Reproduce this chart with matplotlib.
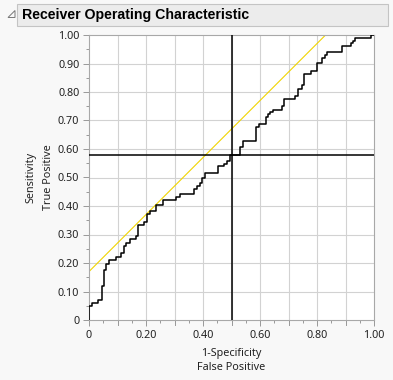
import numpy as np
import matplotlib.pyplot as plt
from matplotlib.patches import Rectangle, Polygon
from matplotlib.ticker import MultipleLocator, FuncFormatter

# ROC curve points (1-specificity, sensitivity)
fpr = [0.0, 0.0, 0.011, 0.033, 0.044, 0.054, 0.061, 0.070, 0.093, 0.113,
       0.122, 0.129, 0.145, 0.165, 0.173, 0.194, 0.202, 0.215, 0.235, 0.259,
       0.305, 0.319, 0.369, 0.379, 0.389, 0.398, 0.407, 0.453, 0.474, 0.484,
       0.495, 0.530, 0.541, 0.585, 0.596, 0.622, 0.629, 0.636, 0.645, 0.676,
       0.684, 0.724, 0.733, 0.747, 0.754, 0.778, 0.799, 0.819, 0.828, 0.836,
       0.889, 0.919, 0.925, 0.933, 0.991, 1.0]
tpr = [0.0, 0.049, 0.060, 0.070, 0.118, 0.174, 0.195, 0.211, 0.221, 0.234,
       0.261, 0.269, 0.283, 0.294, 0.333, 0.343, 0.372, 0.381, 0.402, 0.420,
       0.432, 0.443, 0.461, 0.469, 0.482, 0.497, 0.517, 0.540, 0.548, 0.559,
       0.578, 0.606, 0.628, 0.676, 0.687, 0.711, 0.722, 0.729, 0.736, 0.752,
       0.774, 0.786, 0.812, 0.825, 0.862, 0.873, 0.901, 0.920, 0.929, 0.939,
       0.961, 0.971, 0.979, 0.989, 1.0, 1.0]

tangent_intercept = 0.17   # slope-1 line touching the curve
cross_x = 0.50
cross_y = 0.578

title = "Receiver Operating Characteristic"
xlabel = "1-Specificity\nFalse Positive"
ylabel = "Sensitivity\nTrue Positive"

W, H = 393, 380
fig = plt.figure(figsize=(W / 100, H / 100), dpi=100, facecolor='#f8f8f8')

# header bar
fig.patches.append(Rectangle((17 / W, 1 - 26 / H), 371 / W, 22 / H,
                             transform=fig.transFigure, facecolor='#ececec',
                             edgecolor='#c4c4c4', lw=0.8))
fig.patches.append(Polygon([(15 / W, 1 - 10.5 / H), (15 / W, 1 - 17.5 / H),
                            (8 / W, 1 - 17.5 / H)], closed=True,
                           transform=fig.transFigure, facecolor='none',
                           edgecolor='#777777', lw=0.7))
fig.text(22 / W, 1 - 15.5 / H, title, fontsize=10.2, fontweight='bold',
         family='Liberation Sans', va='center', ha='left', color='black')

ax = fig.add_axes([89 / W, 1 - 320 / H, 285 / W, 285 / H])
ax.set_facecolor('white')

ax.plot(fpr, tpr, drawstyle='steps-post', color='black', lw=1.1, zorder=3)
xs = np.array([0.0, 1.0])
ax.plot(xs, xs + tangent_intercept, color='#f0d400', lw=0.8, zorder=2)
ax.axvline(cross_x, color='black', lw=1.1, zorder=4)
ax.axhline(cross_y, color='black', lw=1.1, zorder=4)

ax.set_xlim(0, 1)
ax.set_ylim(0, 1)

fmt = FuncFormatter(lambda v, p: '0' if abs(v) < 1e-9 else f'{v:.2f}')
ax.xaxis.set_major_locator(MultipleLocator(0.2))
ax.xaxis.set_minor_locator(MultipleLocator(0.05))
ax.yaxis.set_major_locator(MultipleLocator(0.1))
ax.yaxis.set_minor_locator(MultipleLocator(0.05))
ax.xaxis.set_major_formatter(fmt)
ax.yaxis.set_major_formatter(fmt)

# grid every 0.1 on both axes
for v in np.arange(0.1, 1.0, 0.1):
    ax.axvline(v, color='#d2d2d2', lw=0.8, zorder=1)
    ax.axhline(v, color='#d2d2d2', lw=0.8, zorder=1)

ax.tick_params(which='major', length=4.5, width=0.7, color='#999999',
               labelsize=7.8, labelcolor='#222222', pad=2.5)
ax.tick_params(which='minor', length=2.5, width=0.7, color='#999999')
for lab in ax.get_xticklabels() + ax.get_yticklabels():
    lab.set_family('Noto Sans')

# longer ticks at every 0.1 on x
for v in np.arange(0.1, 1.0, 0.2):
    ax.plot([v, v], [0, -0.016], color='#999999', lw=0.7, clip_on=False)

for s in ax.spines.values():
    s.set_color('#a8a8a8')
    s.set_linewidth(0.8)

ax.set_xlabel(xlabel, fontsize=7.8, family='Noto Sans', color='#222222',
              labelpad=5, linespacing=1.45)
ax.set_ylabel(ylabel, fontsize=7.8, family='Noto Sans', color='#222222',
              labelpad=3, linespacing=1.75)

fig.savefig('out.png', dpi=100, facecolor=fig.get_facecolor())
